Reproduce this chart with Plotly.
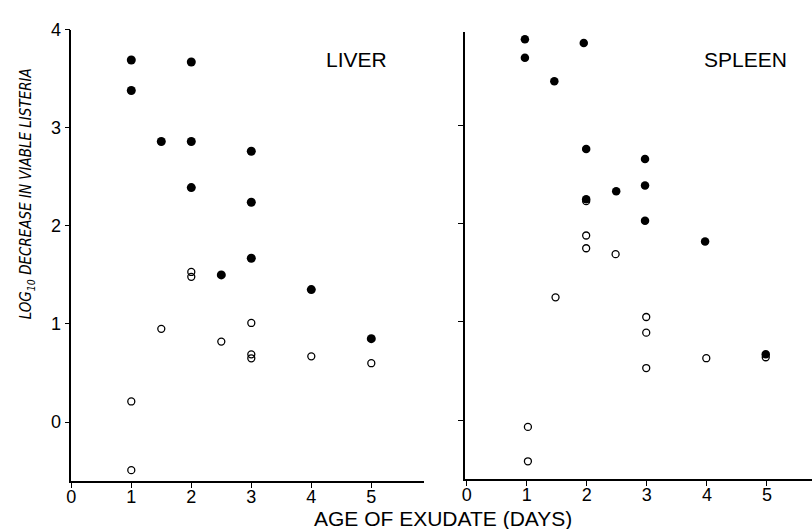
import plotly.graph_objects as go

# ---- data ----
liver_fill_x = [1, 1, 1.5, 2, 2, 2, 2.5, 3, 3, 3, 4, 5]
liver_fill_y = [3.69, 3.38, 2.86, 3.67, 2.86, 2.39, 1.50, 2.76, 2.24, 1.67, 1.35, 0.85]
liver_open_x = [1, 1, 1.5, 2, 2, 2.5, 3, 3, 3, 4, 5]
liver_open_y = [0.21, -0.49, 0.95, 1.53, 1.48, 0.82, 1.01, 0.69, 0.65, 0.67, 0.60]

spleen_fill_x = [0.97, 0.97, 1.46, 1.95, 1.99, 1.99, 2.49, 2.97, 2.97, 2.97, 3.97, 4.98]
spleen_fill_y = [3.88, 3.69, 3.45, 3.84, 2.76, 2.25, 2.33, 2.66, 2.39, 2.03, 1.82, 0.67]
spleen_open_x = [1.02, 1.02, 1.48, 1.99, 1.99, 1.99, 2.48, 2.99, 2.99, 2.99, 3.99, 4.98]
spleen_open_y = [-0.07, -0.42, 1.25, 2.23, 1.88, 1.75, 1.69, 1.05, 0.89, 0.53, 0.63, 0.64]

x_ticks = [0, 1, 2, 3, 4, 5]
y_ticks = [0, 1, 2, 3, 4]

W, H = 812, 529
FONT = "Liberation Sans"
NARROW = "DejaVu Sans Condensed, Liberation Sans Narrow, Liberation Sans"

def px_x(p):
    return p / W

def px_y(p):
    return 1 - p / H

fig = go.Figure()

open_marker = dict(symbol="circle-open", size=7, color="black", line=dict(width=1.3, color="black"))
fill_marker = dict(symbol="circle", size=9, color="black")

fig.add_trace(go.Scatter(x=liver_open_x, y=liver_open_y, mode="markers", marker=open_marker,
                         xaxis="x", yaxis="y", showlegend=False))
fig.add_trace(go.Scatter(x=liver_fill_x, y=liver_fill_y, mode="markers", marker=fill_marker,
                         xaxis="x", yaxis="y", showlegend=False))
fig.add_trace(go.Scatter(x=spleen_open_x, y=spleen_open_y, mode="markers", marker=open_marker,
                         xaxis="x2", yaxis="y2", showlegend=False))
fig.add_trace(go.Scatter(x=spleen_fill_x, y=spleen_fill_y, mode="markers",
                         marker=dict(symbol="circle", size=8.5, color="black"),
                         xaxis="x2", yaxis="y2", showlegend=False))

line_common = dict(showgrid=False, zeroline=False, showline=True, linecolor="black", linewidth=1.5,
                   ticks="outside", ticklen=5, tickwidth=1.3, tickcolor="black")
xfont = dict(family=FONT, size=18, color="black")
yfont = dict(family=FONT, size=18, color="black")

fig.update_layout(
    width=W, height=H,
    margin=dict(l=0, r=0, t=0, b=0),
    paper_bgcolor="white", plot_bgcolor="white",
    xaxis=dict(domain=[px_x(66.7), px_x(421.7)], range=[0, 5.88], anchor="y",
               tickvals=x_ticks, tickfont=xfont, ticklabelstandoff=-6, **line_common),
    yaxis=dict(domain=[px_y(480), px_y(20)], range=[-0.6, 4.0], anchor="x",
               tickvals=y_ticks, tickfont=yfont, **line_common),
    xaxis2=dict(domain=[px_x(463.0), 1.0], range=[-0.025, 5.75], anchor="y2",
                tickvals=x_ticks, tickfont=xfont, ticklabelstandoff=-6, **line_common),
    yaxis2=dict(domain=[px_y(478), px_y(22.7)], range=[-0.6, 3.95], anchor="x2",
                tickvals=y_ticks, showticklabels=False, **line_common),
    annotations=[
        dict(text="LIVER", x=px_x(354), y=px_y(50), xref="paper", yref="paper",
             xanchor="center", yanchor="middle",
             showarrow=False, font=dict(family=FONT, size=21, color="black")),
        dict(text="SPLEEN", x=px_x(745), y=px_y(50), xref="paper", yref="paper",
             xanchor="center", yanchor="middle",
             showarrow=False, font=dict(family=FONT, size=21, color="black")),
        dict(text="AGE OF EXUDATE (DAYS)", x=px_x(441), y=px_y(518), xref="paper", yref="paper",
             xanchor="center", yanchor="middle",
             showarrow=False, font=dict(family=FONT, size=21, color="black")),
        dict(text="<i>LOG<sub>10</sub> DECREASE IN VIABLE LISTERIA</i>", x=px_x(22), y=px_y(187),
             xref="paper", yref="paper", textangle=-90, showarrow=False,
             xanchor="center", yanchor="middle",
             font=dict(family=NARROW, size=15, color="black")),
    ],
)

fig.write_html("out.html")
